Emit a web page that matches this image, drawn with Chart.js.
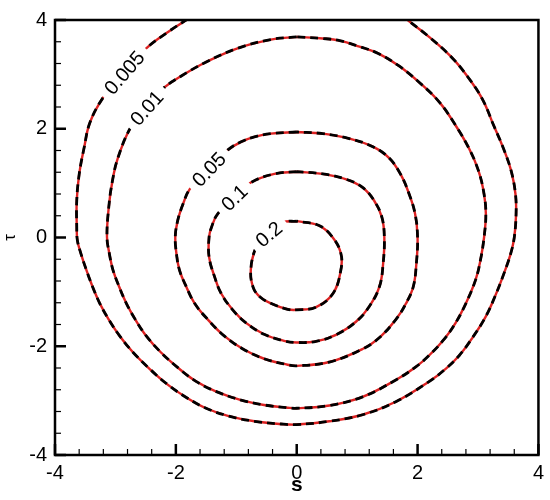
<!DOCTYPE html>
<html>
<head>
<meta charset="utf-8">
<script src="https://cdn.jsdelivr.net/npm/chart.js@4.4.0/dist/chart.umd.min.js"></script>
<style>
  html, body { margin: 0; padding: 0; background: #fff; }
  #wrap { width: 550px; height: 500px; }
</style>
</head>
<body>
<div id="wrap"><canvas id="contourChart" width="550" height="500"></canvas></div>
<script>
// ============================================================
// contour levels, points as [s, tau]
// ============================================================
const levels = ['0.005', '0.01', '0.05', '0.1', '0.2'];

const c005 = [
  [-1.80, 4.02], [-2.13, 3.78], [-2.49, 3.48], [-2.87, 3.05], [-3.20, 2.58],
  [-3.42, 2.12], [-3.52, 1.64], [-3.60, 1.16], [-3.64, 0.68], [-3.64, 0.19],
  [-3.63, -0.05], [-3.57, -0.30], [-3.48, -0.60], [-3.38, -0.90], [-3.26, -1.21],
  [-3.11, -1.51], [-2.93, -1.81], [-2.71, -2.11], [-2.44, -2.41], [-2.13, -2.71],
  [-1.80, -2.96], [-1.50, -3.14], [-1.14, -3.28], [-0.70, -3.38], [-0.26, -3.43],
  [0.00, -3.44], [0.54, -3.38], [1.09, -3.26], [1.64, -3.02], [2.19, -2.65],
  [2.47, -2.41], [2.69, -2.17], [2.91, -1.84], [3.13, -1.45], [3.29, -1.06],
  [3.43, -0.66], [3.54, -0.30], [3.60, 0.00], [3.63, 0.43], [3.62, 0.80],
  [3.55, 1.22], [3.42, 1.64], [3.26, 2.06], [3.07, 2.55], [2.82, 2.97],
  [2.55, 3.33], [2.19, 3.69], [1.81, 4.02]
];
const c01 = [
  [0.00, 3.69], [-0.43, 3.64], [-0.98, 3.48], [-1.53, 3.21], [-1.91, 2.97],
  [-2.19, 2.76], [-2.50, 2.40], [-2.76, 2.00], [-2.96, 1.46], [-3.05, 1.04],
  [-3.11, 0.56], [-3.14, 0.01], [-3.10, -0.30], [-3.04, -0.60], [-2.94, -0.90],
  [-2.82, -1.21], [-2.67, -1.51], [-2.49, -1.81], [-2.25, -2.11], [-1.95, -2.41],
  [-1.66, -2.65], [-1.34, -2.83], [-0.92, -2.99], [-0.54, -3.08], [-0.15, -3.13],
  [0.00, -3.14], [0.54, -3.09], [1.09, -2.93], [1.64, -2.62], [1.97, -2.38],
  [2.19, -2.17], [2.44, -1.87], [2.63, -1.57], [2.80, -1.21], [2.96, -0.78],
  [3.04, -0.42], [3.10, 0.00], [3.13, 0.43], [3.10, 0.80], [3.01, 1.22],
  [2.85, 1.64], [2.63, 2.06], [2.36, 2.49], [2.03, 2.85], [1.70, 3.15],
  [1.34, 3.39], [1.04, 3.51], [0.71, 3.62], [0.43, 3.66], [0.00, 3.69]
];
const c05 = [
  [0.00, 1.94], [-0.43, 1.91], [-0.70, 1.85], [-0.92, 1.76], [-1.14, 1.61],
  [-1.46, 1.27], [-1.77, 0.89], [-1.88, 0.62], [-1.97, 0.31], [-2.01, 0.01],
  [-1.99, -0.30], [-1.94, -0.60], [-1.83, -0.90], [-1.69, -1.21], [-1.47, -1.51],
  [-1.20, -1.81], [-0.89, -2.05], [-0.54, -2.23], [-0.15, -2.34], [0.00, -2.36],
  [0.54, -2.29], [1.09, -2.05], [1.37, -1.84], [1.64, -1.51], [1.81, -1.21],
  [1.93, -0.90], [1.98, -0.48], [2.00, 0.00], [1.96, 0.43], [1.86, 0.80],
  [1.72, 1.16], [1.53, 1.46], [1.26, 1.67], [0.87, 1.82], [0.43, 1.91], [0.00, 1.94]
];
const c1 = [
  [0.00, 1.21], [-0.37, 1.17], [-0.76, 1.01], [-1.02, 0.76], [-1.31, 0.43],
  [-1.41, 0.19], [-1.45, 0.01], [-1.45, -0.36], [-1.36, -0.72], [-1.25, -1.03],
  [-1.06, -1.33], [-0.84, -1.57], [-0.54, -1.78], [-0.21, -1.90], [0.00, -1.93],
  [0.32, -1.91], [0.65, -1.79], [0.98, -1.55], [1.20, -1.27], [1.37, -0.90],
  [1.43, -0.48], [1.45, 0.00], [1.41, 0.37], [1.28, 0.68], [1.09, 0.92],
  [0.82, 1.07], [0.43, 1.17], [0.00, 1.21]
];
const c2 = [
  [0.00, 0.30], [-0.23, 0.28], [-0.50, 0.10], [-0.67, -0.17], [-0.76, -0.59],
  [-0.72, -0.92], [-0.60, -1.10], [-0.43, -1.21], [-0.15, -1.32], [0.00, -1.33],
  [0.32, -1.28], [0.60, -1.03], [0.73, -0.60], [0.73, -0.29], [0.59, 0.01],
  [0.37, 0.22], [0.00, 0.30]
];
const contours = [c005, c01, c05, c1, c2];

// where each level label sits on its curve, and its slope in degrees
const labelS = [-2.85, -2.48, -1.45, -1.03, -0.46];
const labelT = [3.03, 2.38, 1.25, 0.73, 0.06];
const labelAngle = [-49, -48, -46, -44, -40];

// axis ticks
const axisMin = -4;
const axisMax = 4;
const majorStep = 2;
const minorStep = 0.4;

const FONT = 'Liberation Sans, Arial, Helvetica, sans-serif';

// ── build datasets: red solid line under a black dashed line ──
function toPoints(arr) {
  return arr.map(p => ({ x: p[0], y: p[1] }));
}

const datasets = [];
contours.forEach((pts, i) => {
  datasets.push({
    label: levels[i] + ' dashed',
    data: toPoints(pts),
    borderColor: '#000000',
    borderWidth: 2.8,
    borderDash: [8, 5],
    order: 1
  });
  datasets.push({
    label: levels[i],
    data: toPoints(pts),
    borderColor: '#dd2222',
    borderWidth: 2.4,
    order: 2
  });
});

// ── contour labels: white gap in the line, then the text ─────
const contourLabels = {
  id: 'contourLabels',
  afterDatasetsDraw(chart) {
    const { ctx, scales: { x, y } } = chart;
    ctx.save();
    ctx.font = '20px ' + FONT;
    ctx.textAlign = 'center';
    ctx.textBaseline = 'middle';
    levels.forEach((txt, i) => {
      const px = x.getPixelForValue(labelS[i]);
      const py = y.getPixelForValue(labelT[i]);
      const w = ctx.measureText(txt).width;
      ctx.save();
      ctx.translate(px, py);
      ctx.rotate(labelAngle[i] * Math.PI / 180);
      ctx.fillStyle = '#ffffff';
      ctx.fillRect(-w / 2 - 7, -11, w + 14, 22);
      ctx.fillStyle = '#000000';
      ctx.fillText(txt, 0, 1);
      ctx.restore();
    });
    ctx.restore();
  }
};

// ── frame plus inward major / minor ticks on left and bottom ─
const frameTicks = {
  id: 'frameTicks',
  afterDraw(chart) {
    const { ctx, chartArea: a, scales: { x, y } } = chart;
    ctx.save();
    ctx.strokeStyle = '#000000';
    ctx.lineWidth = 2.5;
    ctx.strokeRect(a.left, a.top, a.right - a.left, a.bottom - a.top);

    const n = Math.round((axisMax - axisMin) / minorStep);
    for (let k = 0; k <= n; k++) {
      const v = axisMin + k * minorStep;
      const major = Math.abs(v / majorStep - Math.round(v / majorStep)) < 1e-6;
      const len = major ? 11 : 6;
      ctx.lineWidth = major ? 2.5 : 1.2;

      const px = x.getPixelForValue(v);
      ctx.beginPath();
      ctx.moveTo(px, a.bottom);
      ctx.lineTo(px, a.bottom - len);
      ctx.stroke();

      const py = y.getPixelForValue(v);
      ctx.beginPath();
      ctx.moveTo(a.left, py);
      ctx.lineTo(a.left + len, py);
      ctx.stroke();
    }
    ctx.restore();
  }
};

new Chart(document.getElementById('contourChart'), {
  type: 'line',
  data: { datasets },
  options: {
    responsive: false,
    animation: false,
    devicePixelRatio: 1,
    elements: {
      point: { radius: 0 },
      line: { tension: 0.4, fill: false, capBezierPoints: false }
    },
    layout: { padding: { top: 13, right: 10, left: 0, bottom: 0 } },
    plugins: {
      legend: { display: false },
      tooltip: { enabled: false }
    },
    scales: {
      x: {
        type: 'linear',
        min: axisMin,
        max: axisMax,
        grid: { display: false, drawTicks: false },
        border: { display: false },
        ticks: {
          stepSize: majorStep,
          padding: 6,
          maxRotation: 0,
          color: '#000000',
          font: { family: FONT, size: 20 }
        },
        title: {
          display: true,
          text: 's',
          color: '#000000',
          padding: { top: 0, bottom: 2 },
          font: { family: FONT, size: 21, weight: 'bold' }
        },
        afterFit: s => { s.height = 45; }
      },
      y: {
        type: 'linear',
        min: axisMin,
        max: axisMax,
        grid: { display: false, drawTicks: false },
        border: { display: false },
        ticks: {
          stepSize: majorStep,
          padding: 8,
          color: '#000000',
          font: { family: FONT, size: 20 }
        },
        title: {
          display: true,
          text: 'τ',
          color: '#000000',
          padding: { top: 0, bottom: 0 },
          font: { family: FONT, size: 17 }
        },
        afterFit: s => { s.width = 55; }
      }
    }
  },
  plugins: [contourLabels, frameTicks]
});
</script>
</body>
</html>
